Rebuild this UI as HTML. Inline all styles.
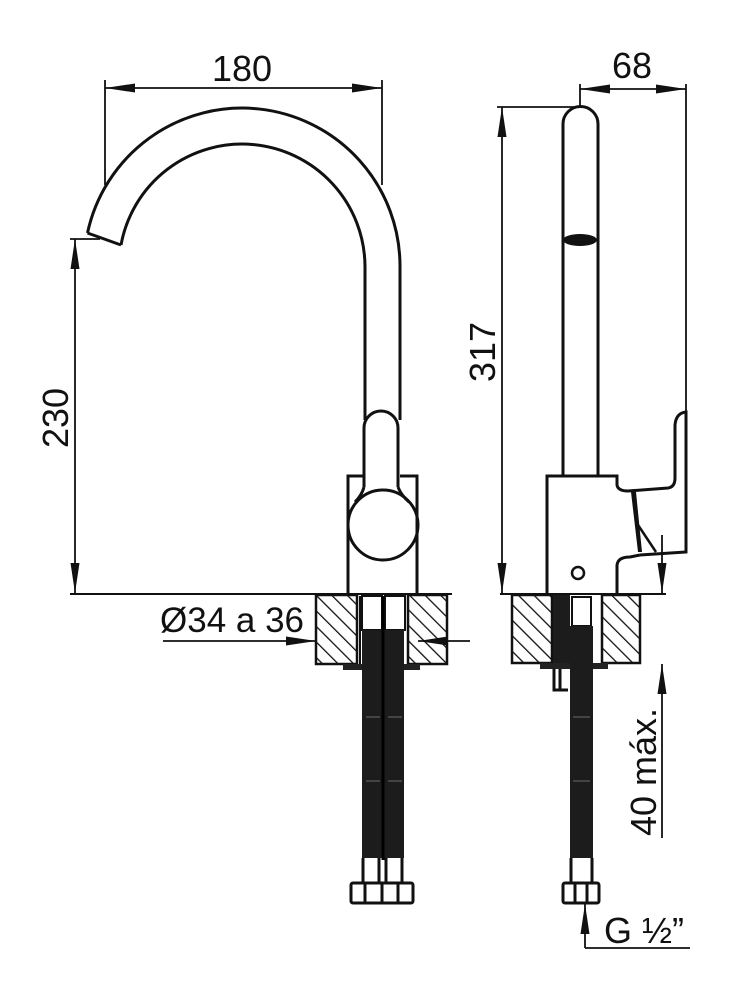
<!DOCTYPE html>
<html><head><meta charset="utf-8"><style>
html,body{margin:0;padding:0;background:#fff;}
svg{display:block;}
text{font-family:"Liberation Sans",Arial,sans-serif;fill:#111;}
</style></head><body>
<svg width="732" height="1006" viewBox="0 0 732 1006" xmlns="http://www.w3.org/2000/svg">
<defs>
<pattern id="h" patternUnits="userSpaceOnUse" width="11" height="11" patternTransform="rotate(-45)">
<rect width="11" height="11" fill="#fff"/>
<line x1="0" y1="0" x2="0" y2="11" stroke="#111" stroke-width="2.6"/>
</pattern>
<marker id="b" viewBox="0 0 30 9" refX="30" refY="4.5" markerWidth="30" markerHeight="9" markerUnits="userSpaceOnUse" orient="auto-start-reverse">
<path d="M0,0 L30,4.5 L0,9 z" fill="#111"/>
</marker>
</defs>
<g fill="none" stroke="#111" stroke-width="3">
<!-- LEFT VIEW spout -->
<path d="M87.5,233 A158,158 0 0 1 400,266 L400,420"/>
<path d="M121,245 A123,123 0 0 1 365,266 L365,420"/>
<path d="M87.5,233 L121,245"/>
<!-- lever -->
<path d="M364,487 L364,428 A17,17 0 0 1 398,428 L398,487"/>
<path d="M364,487 Q362,495 355,502 M398,487 Q401,495 409,502"/>
<circle cx="383" cy="525" r="35"/>
<!-- body -->
<path d="M348,593 L348,476 L365,476 M400,476 L417,476 L417,593"/>
<!-- RIGHT VIEW pipe -->
<path d="M563,476 L563,124 A17.5,17.5 0 0 1 598,124 L598,476"/>
<path d="M547,593 L547,476 L617,476 L617,485 Q618,491 628,491 L668,488 Q675,487 675,478 L675,425 Q676,413 686,412 L686,552 L640,555"/>
<path d="M617,593 L617,565 Q618,557 630,557 L640,555"/>
<path d="M636,522 L656,552" stroke-width="2.5"/>
</g>
<ellipse cx="580" cy="240" rx="17" ry="6" fill="#111"/>
<path d="M631,492 L636,492 L642,552 L638,552 z" fill="#111"/>
<circle cx="578" cy="573" r="6" fill="none" stroke="#111" stroke-width="2.5"/>
<!-- ground lines -->
<g stroke="#111" stroke-width="2">
<line x1="70" y1="594" x2="452" y2="594"/>
<line x1="500" y1="594" x2="666" y2="594"/>
</g>
<!-- hatched blocks -->
<g stroke="#111" stroke-width="2.5" fill="url(#h)">
<rect x="316" y="595" width="41" height="69"/>
<rect x="408" y="595" width="39" height="69"/>
<rect x="512" y="595" width="40" height="68"/>
<rect x="602" y="595" width="38" height="68"/>
</g>
<!-- left hoses -->
<g stroke="#111" stroke-width="2" fill="#fff">
<rect x="362" y="596" width="20" height="34"/>
<rect x="385" y="596" width="20" height="34"/>
</g>
<line x1="360" y1="596" x2="360" y2="664" stroke="#111" stroke-width="2"/>
<rect x="343" y="664" width="77" height="6" fill="#222"/>
<rect x="362" y="630" width="42" height="228" fill="#1c1c1c"/>
<line x1="383" y1="596" x2="383" y2="860" stroke="#000" stroke-width="3"/>
<g fill="#444"><rect x="366" y="716" width="14" height="2"/><rect x="388" y="716" width="14" height="2"/><rect x="366" y="780" width="14" height="2"/><rect x="388" y="780" width="14" height="2"/></g>
<g fill="none" stroke="#111" stroke-width="3">
<path d="M363,858 L363,882 M379,858 L379,882 M386,858 L386,882 M402,858 L402,882"/>
<rect x="351" y="883" width="62" height="20" rx="2"/>
<path d="M365,883 V903 M382,883 V903 M398,883 V903"/>
</g>
<!-- right hose -->
<rect x="553" y="595" width="17" height="68" fill="#1c1c1c"/>
<rect x="572" y="597" width="19" height="29" fill="#fff" stroke="#111" stroke-width="2"/>
<rect x="540" y="663" width="68" height="6" fill="#222"/>
<rect x="570" y="626" width="23" height="232" fill="#1c1c1c"/>
<g fill="#444"><rect x="573" y="716" width="17" height="2"/><rect x="573" y="780" width="17" height="2"/></g>
<g fill="none" stroke="#111" stroke-width="3">
<path d="M554,669 L554,690 L568,690 M560,669 V690"/>
<path d="M571,858 L571,882 M592,858 L592,882"/>
<rect x="563" y="883" width="36" height="20" rx="2"/>
<path d="M575,883 V903 M587,883 V903"/>
</g>
<!-- dimensions -->
<g stroke="#111" stroke-width="1.8" fill="none">
<line x1="105" y1="80" x2="105" y2="185"/>
<line x1="382" y1="80" x2="382" y2="185"/>
<line x1="105" y1="88" x2="382" y2="88" marker-start="url(#b)" marker-end="url(#b)"/>
<line x1="70" y1="239" x2="100" y2="239"/>
<line x1="75" y1="239" x2="75" y2="593" marker-start="url(#b)" marker-end="url(#b)"/>
<line x1="497" y1="107" x2="580" y2="107"/>
<line x1="502" y1="107" x2="502" y2="593" marker-start="url(#b)" marker-end="url(#b)"/>
<line x1="580" y1="84" x2="580" y2="107"/>
<line x1="686" y1="84" x2="686" y2="412"/>
<line x1="580" y1="89" x2="686" y2="89" marker-start="url(#b)" marker-end="url(#b)"/>
<line x1="163" y1="641" x2="316" y2="641" marker-end="url(#b)"/>
<line x1="470" y1="641" x2="418" y2="641" marker-end="url(#b)"/>
<line x1="662" y1="535" x2="662" y2="593" marker-end="url(#b)"/>
<line x1="662" y1="838" x2="662" y2="664" marker-end="url(#b)"/>
<line x1="690" y1="948" x2="585" y2="948"/>
<line x1="585" y1="948" x2="585" y2="904" marker-end="url(#b)"/>
</g>
<text x="242" y="81" font-size="36" text-anchor="middle">180</text>
<text x="632" y="78" font-size="36" text-anchor="middle">68</text>
<text transform="translate(68,418) rotate(-90)" font-size="36" text-anchor="middle">230</text>
<text transform="translate(495,352) rotate(-90)" font-size="36" text-anchor="middle">317</text>
<text x="160" y="632" font-size="35">Ø34 a 36</text>
<text transform="translate(656,772) rotate(-90)" font-size="36" text-anchor="middle">40 máx.</text>
<text x="604" y="943" font-size="36">G ½”</text>
</svg>
</body></html>
